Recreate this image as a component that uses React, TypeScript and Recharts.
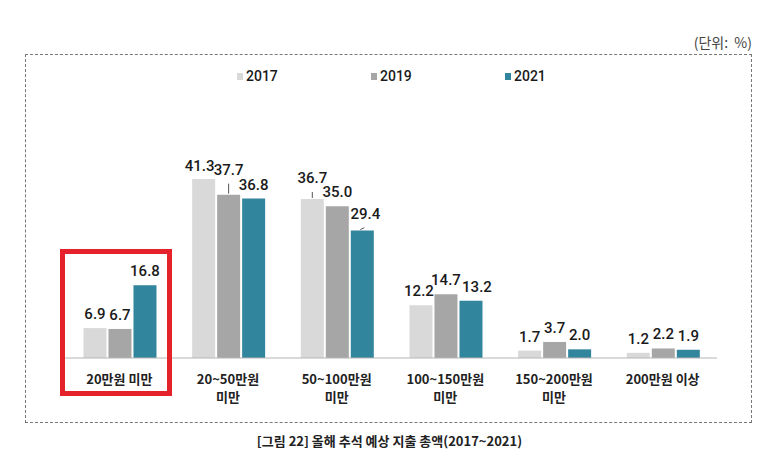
import { BarChart, Bar, XAxis, YAxis } from 'recharts';

const categories = ['20만원 미만', '20~50만원\n미만', '50~100만원\n미만', '100~150만원\n미만', '150~200만원\n미만', '200만원 이상'];
const values2017 = [6.9, 41.3, 36.7, 12.2, 1.7, 1.2];
const values2019 = [6.7, 37.7, 35.0, 14.7, 3.7, 2.2];
const values2021 = [16.8, 36.8, 29.4, 13.2, 2.0, 1.9];
const seriesKeys = ['2017', '2019', '2021'];
const seriesColors = ['#d9d9d9', '#a6a6a6', '#31859c'];

const data = categories.map((name, i) => ({
  name,
  '2017': values2017[i],
  '2019': values2019[i],
  '2021': values2021[i],
}));

// labels that are nudged (some pushed up with a small leader line) so they don't collide
const liftedLabels: Record<string, { lift: number; dx: number; slant?: number }> = {
  '2019:1': { lift: 20, dx: 0 },
  '2017:2': { lift: 16, dx: 0 },
  '2021:2': { lift: 12, dx: 3, slant: 2 },
  '2017:1': { lift: 8, dx: -4 },
  '2017:3': { lift: 9, dx: -2 },
  '2021:3': { lift: 9, dx: 6 },
};

const NUM_FONT = "Roboto, 'Liberation Sans', sans-serif";
const KR_FONT = "'Noto Sans CJK KR', sans-serif";

function makeLabel(key: string) {
  return (props: any) => {
    const { x, y, width, value, index } = props;
    const adj = liftedLabels[`${key}:${index}`];
    const cx = x + width / 2;
    const lift = adj ? adj.lift : 9;
    const dx = adj ? adj.dx : 0;
    const showLeader = adj && adj.lift > 10;
    return (
      <g>
        {showLeader && (
          <line x1={cx + (adj.slant || 0)} y1={y - adj.lift + 9} x2={cx - (adj.slant || 0)} y2={y - 1} stroke="#555" strokeWidth={1} />
        )}
        <text x={cx + dx} y={y - lift} textAnchor="middle" fontFamily={NUM_FONT} fontSize={15} fontWeight={500} fill="#1a1a1a">
          {Number(value).toFixed(1)}
        </text>
      </g>
    );
  };
}

function CategoryTick(props: any) {
  const { x, y, payload } = props;
  const lines = String(payload.value).split('\n');
  return (
    <text x={x} y={y} textAnchor="middle" fontFamily={KR_FONT} fontSize={13} fontWeight={700} fill="#222">
      {lines.map((line, i) => (
        <tspan key={i} x={x} dy={i === 0 ? 26 : 18}>{line}</tspan>
      ))}
    </text>
  );
}

export default function App() {
  return (
    <div style={{ position: 'absolute', left: 0, top: 0, width: 775, height: 468, background: '#fff' }}>
      <div style={{ position: 'absolute', right: 23, top: 32, fontSize: 14, color: '#444', fontFamily: KR_FONT, whiteSpace: 'pre' }}>(단위:  %)</div>
      <div style={{ position: 'absolute', left: 25, top: 54, width: 727, height: 369, border: '1px dashed #777', boxSizing: 'border-box' }} />
      {seriesKeys.map((k, i) => (
        <div key={k} style={{ position: 'absolute', left: 237 + i * 134, top: 68, display: 'flex', alignItems: 'center', fontSize: 14, fontWeight: 500, color: '#1a1a1a', fontFamily: NUM_FONT }}>
          <span style={{ width: 6, height: 7, background: seriesColors[i], marginRight: 3 }} />
          <span>{k}</span>
        </div>
      ))}
      <div style={{ position: 'absolute', left: 0, top: 0 }}>
        <BarChart width={775} height={468} data={data} margin={{ top: 163, right: 58, left: 65, bottom: 60 }} barCategoryGap="17%" barGap={2}>
          <XAxis dataKey="name" height={50} axisLine={{ stroke: '#b5b5b5' }} tickLine={false} tickSize={0} tickMargin={0} interval={0} tick={(p: any) => <CategoryTick {...p} />} />
          <YAxis hide domain={[0, 45]} />
          {seriesKeys.map((k, i) => (
            <Bar key={k} dataKey={k} fill={seriesColors[i]} isAnimationActive={false} label={makeLabel(k)} />
          ))}
        </BarChart>
      </div>
      <div style={{ position: 'absolute', left: 60, top: 249, width: 112, height: 147, border: '5px solid #e5212b', boxSizing: 'border-box' }} />
      <div style={{ position: 'absolute', left: 0, width: 775, top: 431, textAlign: 'center', fontSize: 13, fontWeight: 700, color: '#222', fontFamily: KR_FONT, paddingLeft: 2 }}>
        [그림 22] 올해 추석 예상 지출 총액(2017~2021)
      </div>
    </div>
  );
}
